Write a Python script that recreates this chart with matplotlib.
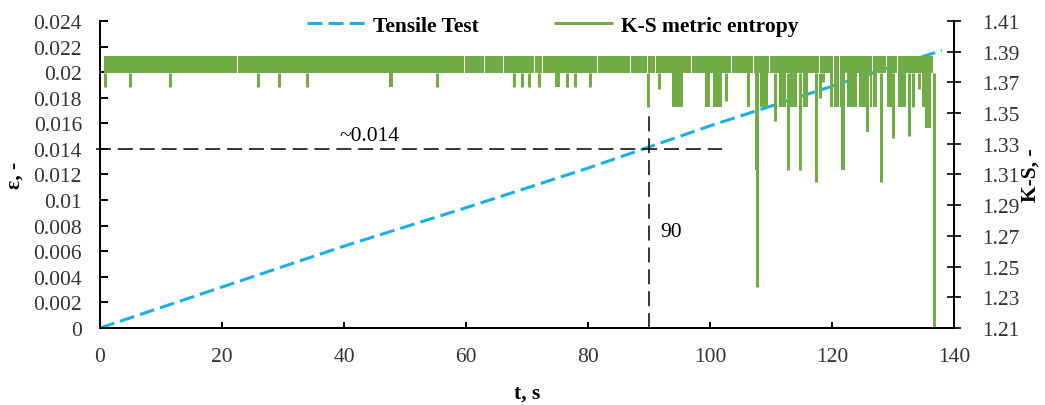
import matplotlib
matplotlib.use("Agg")
import matplotlib.pyplot as plt

plt.rcParams["font.family"] = ["Liberation Serif", "DejaVu Serif"]

BLUE = "#1AB0EA"
GREEN = "#70AD47"

# tensile test, strain vs time
tensile_t = [0, 20, 40, 60, 80, 100, 120, 138]
tensile_eps = [0, 0.0032, 0.0064, 0.0094, 0.0125, 0.0158, 0.0189, 0.0217]

# K-S metric entropy: flips between two levels all the time
ks_start, ks_end = 0.6, 136.6
ks_high, ks_low = 1.387, 1.376
# short stretches where the band is broken
ks_gaps = [22.6, 46.4, 57.7, 59.8, 63.1, 66.1, 71.3, 72.6, 81.5, 86.9, 89.7,
           91.0, 97.0, 103.5, 107.2, 109.8, 117.9, 120.2, 121.3, 124.1, 126.7,
           129.0, 130.7, 133.6]
# dense stretches where the lower level drops
block_start = [47.3, 74.6, 93.7, 99.2, 100.5, 106.0, 107.3, 108.2, 111.3,
               113.1, 115.2, 119.7, 121.5, 122.5, 124.4, 125.5, 126.2, 128.9,
               130.8, 134.8, 135.2]
block_end = [48.1, 75.4, 95.6, 100.0, 102.0, 106.6, 108.1, 109.5, 112.5,
             114.3, 116.1, 122.1, 122.2, 124.1, 125.9, 126.1, 127.4, 129.8,
             132.1, 136.1, 136.3]
block_ks = [1.367, 1.367, 1.354, 1.354, 1.354, 1.354, 1.313, 1.354, 1.354,
            1.354, 1.354, 1.354, 1.313, 1.354, 1.354, 1.338, 1.354, 1.354,
            1.354, 1.354, 1.340]
# single spikes
dip_t = [0.9, 4.9, 11.5, 25.9, 29.4, 34.0, 55.3, 67.8, 69.1, 70.4, 72.0,
         76.5, 77.9, 80.3, 89.9, 91.6, 102.6, 107.7, 110.7, 112.8, 114.8,
         117.4, 118.0, 118.5, 128.0, 130.0, 132.6, 133.2, 134.2, 136.8]
dip_ks = [1.367, 1.367, 1.367, 1.367, 1.367, 1.367, 1.367, 1.367, 1.367,
          1.367, 1.367, 1.367, 1.367, 1.367, 1.354, 1.366, 1.358, 1.237,
          1.345, 1.313, 1.313, 1.305, 1.360, 1.370, 1.305, 1.334, 1.335,
          1.354, 1.366, 1.210]

# guide lines
guide_t, guide_eps = 90, 0.014
x_ticks = list(range(0, 141, 20))
eps_ticks = [i * 0.002 for i in range(13)]
ks_ticks = [1.21 + i * 0.02 for i in range(11)]

fig = plt.figure(figsize=(10.45, 4.06), dpi=100)
ax1 = fig.add_axes([0.0957, 0.1897, 0.8172, 0.7561])
ax2 = ax1.twinx()

ax1.plot(tensile_t, tensile_eps, color=BLUE, lw=2.2, dashes=(4.9, 2.0),
         label="Tensile Test")
ax1.plot([-0.6, 102], [guide_eps, guide_eps], color="black", lw=1.1,
         dashes=(9.8, 4.5), clip_on=False)
ax1.plot([guide_t, guide_t], [0, 0.017], color="black", lw=1.1,
         dashes=(9.8, 4.5))
ax1.text(39.3, 0.0147, "~0.014", fontsize=15.5)
ax1.text(91.8, 0.0072, "90", fontsize=15.5)


def band(a, b, lo):
    # fill from lo up to the top level, broken at the gaps
    cuts = [a] + [g for g in ks_gaps if a < g < b] + [b]
    for i in range(len(cuts) - 1):
        x0 = cuts[i] + (0.07 if i > 0 else 0)
        x1 = cuts[i + 1] - (0.07 if i < len(cuts) - 2 else 0)
        ax2.fill_between([x0, x1], lo, ks_high, color=GREEN, lw=0)


band(ks_start, ks_end, ks_low)
for a, b, lo in zip(block_start, block_end, block_ks):
    band(a, b, lo)
ks_lines = ax2.vlines(dip_t, dip_ks, ks_low, color=GREEN, lw=2.2,
                      label="K-S metric entropy")

ax1.set_xlim(0, 140)
ax1.set_ylim(0, 0.024)
ax2.set_ylim(1.21, 1.41)
ax1.set_xticks(x_ticks)
ax1.set_yticks(eps_ticks)
ax1.set_yticklabels([f"{v:g}" for v in eps_ticks])
ax2.set_yticks(ks_ticks)
ax2.set_yticklabels([f"{v:.2f}" for v in ks_ticks])

for ax in (ax1, ax2):
    ax.spines["top"].set_visible(False)
    for s in ax.spines.values():
        s.set_linewidth(1.4)
ax1.spines["right"].set_visible(False)
ax1.tick_params(axis="x", direction="in", length=4.5, width=1.4, pad=14,
                labelsize=15.5, labelcolor="#333333")
ax1.tick_params(axis="y", direction="in", length=6, width=1.4, pad=13,
                labelsize=15.5, labelcolor="#333333")
ax2.tick_params(axis="y", direction="inout", length=10, width=1.2, pad=15,
                labelsize=15.5, labelcolor="#333333")

ax1.set_xlabel("t, s", fontsize=15.5, fontweight="bold", labelpad=12)
ax1.set_ylabel("ε, -", fontsize=15.5, fontweight="bold", labelpad=6)
ax2.set_ylabel("K-S, -", fontsize=15.5, fontweight="bold", labelpad=1)

h1, l1 = ax1.get_legend_handles_labels()
ax2.legend(h1[:1] + [ks_lines], [l1[0], "K-S metric entropy"],
           loc="center", bbox_to_anchor=(0.53, 0.984), ncol=2, frameon=False,
           prop={"weight": "bold", "size": 15.5}, handlelength=2.7,
           handletextpad=0.4, columnspacing=3.5)

fig.savefig("out.png", dpi=100)
